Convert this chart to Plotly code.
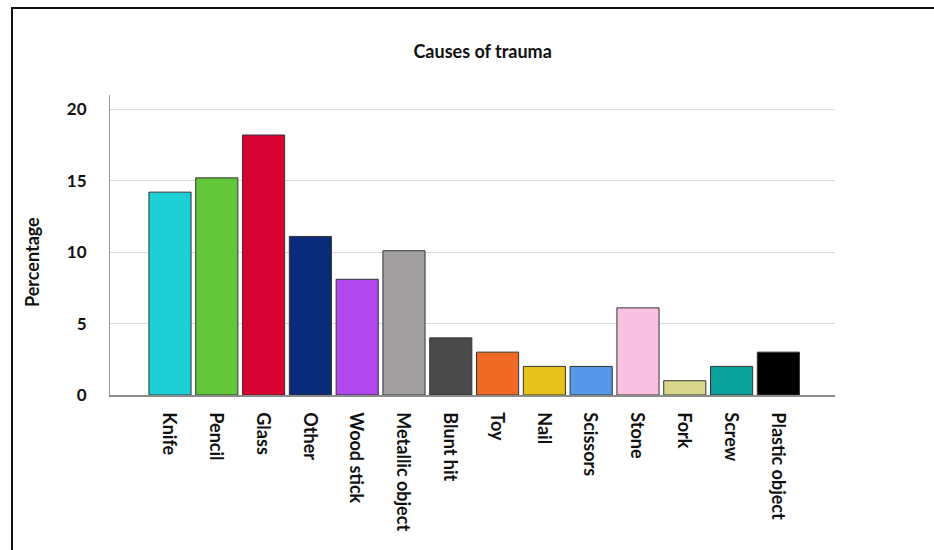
import plotly.graph_objects as go

categories = ["Knife", "Pencil", "Glass", "Other", "Wood stick", "Metallic object",
              "Blunt hit", "Toy", "Nail", "Scissors", "Stone", "Fork", "Screw",
              "Plastic object"]
percentages = [14.2, 15.2, 18.2, 11.1, 8.1, 10.1, 4.0, 3.0, 2.0, 2.0, 6.1, 1.0, 2.0, 3.0]
bar_colors = ["#1ecfd6", "#62c63a", "#d90032", "#0a2a7a", "#b048ee", "#a09e9e",
              "#4a4a4a", "#f06a25", "#e6c21a", "#5599e8", "#f9c0e2", "#d8d68c",
              "#0ba19b", "#000000"]
y_ticks = [0, 5, 10, 15, 20]

FONT = "Lato"

fig = go.Figure()
fig.add_trace(go.Bar(
    x=categories, y=percentages,
    marker=dict(color=bar_colors, line=dict(color="#333333", width=1)),
    hoverinfo="x+y",
))

fig.update_layout(
    width=934, height=550,
    margin=dict(l=110, r=99, t=95, b=155),
    paper_bgcolor="white", plot_bgcolor="white",
    bargap=0.1,
    showlegend=False,
    font=dict(family=FONT, color="#111111"),
    title=dict(text="<b>Causes of trauma</b>", x=0.514, xref="paper", xanchor="center",
               y=1 - 52 / 550, yref="container", yanchor="middle",
               font=dict(family=FONT, size=18, color="#111111")),
    xaxis=dict(
        range=[-1.282, 14.21],
        tickangle=90,
        tickfont=dict(family=FONT, size=18, color="#111111", weight="bold"),
        showline=True, linecolor="#8c8c8c", linewidth=1.5,
        showgrid=False, ticks="",
        ticklabelstandoff=12,
        ticklabelshift=-1,
        fixedrange=True,
    ),
    yaxis=dict(
        range=[0, 21],
        tickvals=y_ticks,
        tickfont=dict(family=FONT, size=17, color="#111111", weight="bold"),
        showline=True, linecolor="#9a9a9a", linewidth=1,
        showgrid=True, gridcolor="#dcdcdc", gridwidth=1,
        zeroline=False, ticks="",
        ticklabelstandoff=19,
        fixedrange=True,
    ),
    annotations=[dict(
        text="<b>Percentage</b>", textangle=-90,
        x=(32 - 110) / 725, y=(395 - 262) / 300, xref="paper", yref="paper",
        xanchor="center", yanchor="middle", showarrow=False,
        font=dict(family=FONT, size=18, color="#111111"),
    )],
    shapes=[dict(
        type="rect", xref="paper", yref="paper",
        x0=(12 - 110) / 725, x1=(940 - 110) / 725,
        y0=(395 - 560) / 300, y1=(395 - 8) / 300,
        line=dict(color="#111111", width=2), fillcolor="rgba(0,0,0,0)", layer="below",
    )],
)

fig.write_html("out.html")
